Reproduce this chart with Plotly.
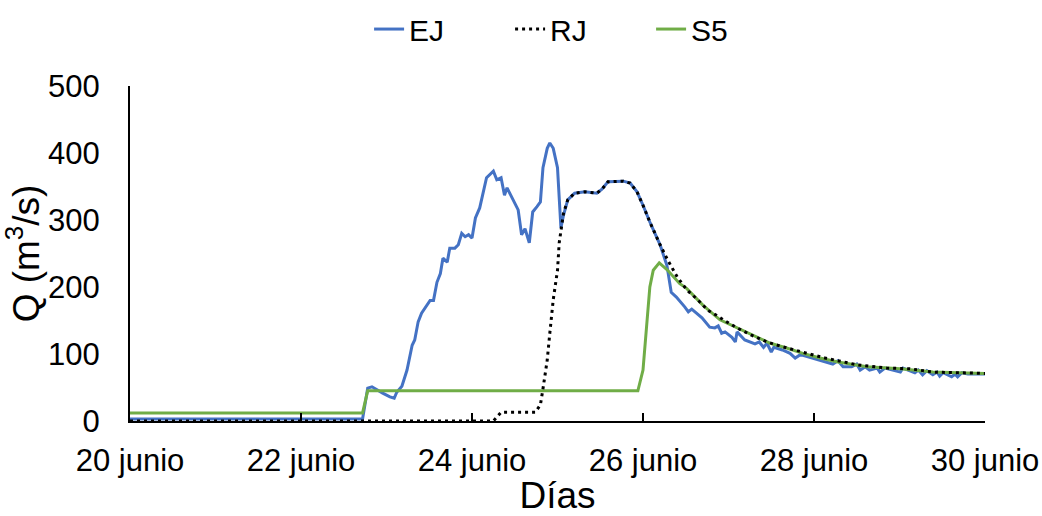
import plotly.graph_objects as go

# time in days since 20 junio
ej_x = [0, 2.72, 2.78, 2.83, 2.95, 3.04, 3.09, 3.12, 3.18, 3.24, 3.30, 3.33, 3.37, 3.41, 3.51, 3.55,
        3.59, 3.63, 3.66, 3.71, 3.74, 3.80, 3.84, 3.88, 3.92, 3.96, 4.00, 4.04, 4.09, 4.17, 4.25, 4.29,
        4.34, 4.38, 4.41, 4.48, 4.54, 4.58, 4.62, 4.67, 4.71, 4.76, 4.80, 4.83, 4.88, 4.91, 4.95, 5.00,
        5.04, 5.07, 5.12, 5.20, 5.32, 5.46, 5.52, 5.59, 5.77, 5.85, 5.93, 6.00, 6.08, 6.20, 6.28, 6.33,
        6.39, 6.49, 6.53, 6.57, 6.69, 6.78, 6.84, 6.88, 6.92, 6.96, 7.04, 7.08, 7.10, 7.19, 7.31, 7.36,
        7.41, 7.45, 7.50, 7.53, 7.63, 7.72, 7.78, 7.84, 8.07, 8.22, 8.28, 8.34, 8.44, 8.50, 8.54, 8.60,
        8.65, 8.74, 8.77, 8.83, 9.01, 9.04, 9.18, 9.22, 9.27, 9.32, 9.39, 9.44, 9.47, 9.51, 9.61, 9.65,
        9.68, 9.73, 9.80, 10.0]
ej_y = [3, 3, 49, 51, 42, 36, 34, 43, 52, 76, 113, 121, 148, 161, 180, 180,
        207, 220, 243, 237, 258, 258, 263, 280, 275, 278, 273, 303, 318, 363, 373, 360,
        363, 337, 348, 330, 315, 278, 287, 266, 312, 320, 327, 378, 407, 415, 407, 378,
        288, 307, 330, 340, 342, 340, 346, 357, 358, 355, 342, 322, 297, 263, 232, 192,
        185, 170, 163, 167, 154, 140, 139, 142, 131, 133, 125, 118, 133, 121, 115, 118,
        110, 116, 103, 110, 106, 101, 94, 99, 91, 85, 90, 81, 81, 85, 76, 81,
        76, 79, 73, 79, 73, 79, 72, 76, 69, 75, 69, 73, 67, 72, 66, 70,
        66, 72, 70, 70]

rj_x = [0, 4.25, 4.30, 4.34, 4.74, 4.80, 4.83, 4.88, 4.91, 4.95, 5.00, 5.02, 5.07, 5.12, 5.20, 5.32,
        5.46, 5.52, 5.59, 5.77, 5.85, 5.93, 6.00, 6.08, 6.20, 6.29, 6.40, 6.51, 6.64, 6.76, 6.87, 6.94,
        7.10, 7.27, 7.45, 7.60, 7.86, 8.13, 8.50, 8.85, 9.12, 9.39, 9.71, 10.0]
rj_y = [0, 0, 7, 13, 13, 24, 48, 91, 131, 181, 225, 266, 310, 330, 340, 342,
        340, 346, 357, 358, 355, 342, 322, 297, 263, 240, 215, 196, 181, 165, 157, 151,
        139, 128, 118, 112, 103, 94, 84, 79, 78, 73, 72, 71]

s5_x = [0, 2.72, 2.78, 5.94, 6.00, 6.05, 6.08, 6.12, 6.19, 6.28, 6.43, 6.51, 6.70, 6.90, 7.10, 7.29,
        7.49, 7.68, 7.87, 8.07, 8.28, 8.62, 9.01, 9.39, 9.71, 10.0]
s5_y = [12, 12, 45, 45, 76, 146, 200, 225, 236, 226, 205, 198, 173, 151, 139, 127,
        116, 109, 101, 94, 88, 81, 78, 73, 72, 71]

tick_vals = [0, 2, 4, 6, 8, 10]
tick_text = ["20 junio", "22 junio", "24 junio", "26 junio", "28 junio", "30 junio"]

FONT = "Liberation Sans, Arial, sans-serif"

fig = go.Figure()
fig.add_trace(go.Scatter(x=ej_x, y=ej_y, mode="lines", name="EJ", legendrank=1,
                         line=dict(color="#4472C4", width=3)))
fig.add_trace(go.Scatter(x=s5_x, y=s5_y, mode="lines", name="S5", legendrank=3,
                         line=dict(color="#70AD47", width=3)))
fig.add_trace(go.Scatter(x=rj_x, y=rj_y, mode="lines", name="RJ", legendrank=2,
                         line=dict(color="black", width=3, dash="3px,4px")))

fig.update_layout(
    width=1042, height=516,
    margin=dict(l=130, r=57, t=86, b=95, autoexpand=False),
    paper_bgcolor="white", plot_bgcolor="white",
    font=dict(family=FONT, size=31, color="black"),
    showlegend=True,
    legend=dict(orientation="h", x=0.527, xanchor="center", y=1.17, yanchor="middle",
                font=dict(size=30), entrywidth=96, entrywidthmode="pixels",
                traceorder="normal"),
    xaxis=dict(range=[0, 10], tickvals=tick_vals, ticktext=tick_text,
               showline=True, linecolor="black", linewidth=2,
               ticks="inside", ticklen=8, tickwidth=2, tickcolor="black",
               showgrid=False, zeroline=False, ticklabelstandoff=11, automargin=True,
               title=dict(text="Días", standoff=20)),
    yaxis=dict(range=[0, 500], tickvals=[0, 100, 200, 300, 400, 500],
               showline=True, linecolor="black", linewidth=2,
               ticks="", showgrid=False, zeroline=False, ticklabelstandoff=22, automargin=False,
               title=dict(text="Q (m<sup>3</sup>/s)", standoff=12)),
)

fig.write_html("out.html")
